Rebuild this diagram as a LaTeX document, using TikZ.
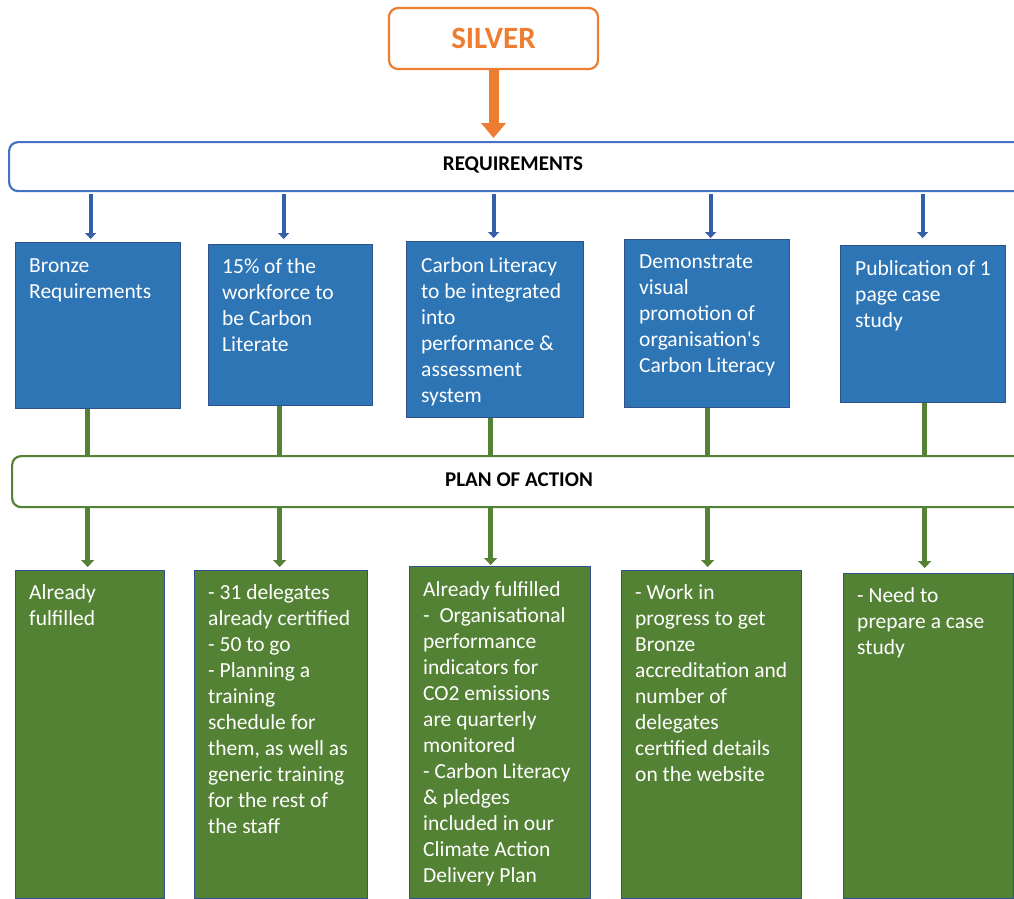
\documentclass[tikz,border=0pt]{standalone}
\usepackage{fontspec}
\setmainfont{Carlito}
\usetikzlibrary{arrows.meta}
\definecolor{orng}{HTML}{ED7D31}
\definecolor{barblue}{HTML}{4472C4}
\definecolor{boxblue}{HTML}{2E75B6}
\definecolor{edgeblue}{HTML}{2F528F}
\definecolor{arrblue}{HTML}{3560A8}
\definecolor{grn}{HTML}{548235}
\tikzset{
  silverbox/.style={draw=orng, line width=2.2pt, rounded corners=9pt, fill=white,
    minimum width=209pt, minimum height=61pt, text=orng,
    font=\fontsize{31}{34}\selectfont\bfseries},
  reqbar/.style={draw=barblue, line width=2.2pt, rounded corners=9pt, fill=white,
    minimum width=1040pt, minimum height=49pt, anchor=north west, inner sep=0pt},
  planbar/.style={draw=grn, line width=2.2pt, rounded corners=9pt, fill=white,
    minimum width=1040pt, minimum height=51pt, anchor=north west, inner sep=0pt},
  bartxt/.style={font=\fontsize{21}{24}\selectfont\bfseries, text=black, inner sep=0pt},
  bbox/.style={draw=edgeblue, line width=1.3pt, fill=boxblue, anchor=north west, inner sep=0pt},
  gbox/.style={draw=edgeblue, line width=1.3pt, fill=grn, anchor=north west, inner sep=0pt},
  wtxt/.style={text=white, font=\fontsize{21.5}{26}\selectfont, align=left, inner sep=0pt, anchor=north west},
  orarrow/.style={draw=orng, line width=10pt, -{Triangle[width=24pt,length=15pt]}},
  barrow/.style={draw=arrblue, line width=4pt, -{Triangle[width=11pt,length=6pt]}},
  gline/.style={draw=grn, line width=4.5pt},
  garrow/.style={draw=grn, line width=4.5pt, -{Triangle[width=13pt,length=7pt]}},
}
\begin{document}
\begin{tikzpicture}[x=1pt,y=-1pt]
\useasboundingbox (0,0) rectangle (1014,898);
\clip (0,0) rectangle (1014,898);

% top
\node[silverbox] (silver) at (493.5,38.5) {SILVER};
\node[reqbar] (req) at (8,141) {};
\node[bartxt] (reqt) at (513,165) {REQUIREMENTS};
\draw[orarrow, shorten >=3pt] (silver.south) -- (silver.south |- req.north);

% blue boxes
\node[bbox, minimum width=165pt, minimum height=166pt] (b1) at (15,242) {};
\node[bbox, minimum width=164pt, minimum height=161pt] (b2) at (208,244) {};
\node[bbox, minimum width=177pt, minimum height=176pt] (b3) at (406,241) {};
\node[bbox, minimum width=165pt, minimum height=168pt] (b4) at (624,239) {};
\node[bbox, minimum width=165pt, minimum height=157pt] (b5) at (840,245) {};

\node[wtxt] (b1t) at (29,258) {Bronze\\Requirements};
\node[wtxt] (b2t) at (222,258) {15\% of the\\workforce to\\be Carbon\\Literate};
\node[wtxt] (b3t) at (421,257) {Carbon Literacy\\to be integrated\\into\\performance \&\\assessment\\system};
\node[wtxt] (b4t) at (639,254) {Demonstrate\\visual\\promotion of\\organisation\textquotesingle s\\Carbon Literacy};
\node[wtxt] (b5t) at (855,260) {Publication of 1\\page case\\study};

% blue arrows
\draw[barrow] ([xshift=-7.5pt]b1.north |- req.south) ++(0,2) -- ([xshift=-7.5pt,yshift=3pt]b1.north);
\draw[barrow] ([xshift=-7pt]b2.north |- req.south) ++(0,2) -- ([xshift=-7pt,yshift=5pt]b2.north);
\draw[barrow] ([xshift=-1.5pt]b3.north |- req.south) ++(0,2) -- ([xshift=-1.5pt,yshift=3pt]b3.north);
\draw[barrow] ([xshift=3.5pt]b4.north |- req.south) ++(0,2) -- ([xshift=3.5pt,yshift=1pt]b4.north);
\draw[barrow] ([xshift=-0.5pt]b5.north |- req.south) ++(0,2) -- ([xshift=-0.5pt,yshift=7pt]b5.north);

% plan bar
\node[planbar] (plan) at (11,455) {};
\node[bartxt] (plant) at (519,480) {PLAN OF ACTION};

% green connectors
\draw[gline] ([xshift=-10.5pt]b1.south) -- ([xshift=-10.5pt]b1.south |- plan.north);
\draw[gline] ([xshift=-11pt]b2.south) -- ([xshift=-11pt]b2.south |- plan.north);
\draw[gline] ([xshift=-4.5pt]b3.south) -- ([xshift=-4.5pt]b3.south |- plan.north);
\draw[gline] ([xshift=0.5pt]b4.south) -- ([xshift=0.5pt]b4.south |- plan.north);
\draw[gline] ([xshift=1.5pt]b5.south) -- ([xshift=1.5pt]b5.south |- plan.north);

% green boxes
\node[gbox, minimum width=149pt, minimum height=328pt] (g1) at (15,570) {};
\node[gbox, minimum width=173pt, minimum height=328pt] (g2) at (194,570) {};
\node[gbox, minimum width=181pt, minimum height=332pt] (g3) at (409,566) {};
\node[gbox, minimum width=180pt, minimum height=328pt] (g4) at (621,570) {};
\node[gbox, minimum width=170pt, minimum height=325pt] (g5) at (843,573) {};

% green arrows
\draw[garrow] ([xshift=-2.5pt]g1.north |- plan.south) -- ([xshift=-2.5pt,yshift=3pt]g1.north);
\draw[garrow] ([xshift=-1.5pt]g2.north |- plan.south) -- ([xshift=-1.5pt,yshift=3pt]g2.north);
\draw[garrow] ([xshift=-9.5pt]g3.north |- plan.south) -- ([xshift=-9.5pt,yshift=1pt]g3.north);
\draw[garrow] ([xshift=-4pt]g4.north |- plan.south) -- ([xshift=-4pt,yshift=3pt]g4.north);
\draw[garrow] ([xshift=-4pt]g5.north |- plan.south) -- ([xshift=-4pt,yshift=5pt]g5.north);

\node[wtxt] (g1t) at (29,584) {Already\\fulfilled};
\node[wtxt] (g2t) at (208,584) {- 31 delegates\\already certified\\- 50 to go\\- Planning a\\training\\schedule for\\them, as well as\\generic training\\for the rest of\\the staff};
\node[wtxt] (g3t) at (423,581) {Already fulfilled\\-~ Organisational\\performance\\indicators for\\CO2 emissions\\are quarterly\\monitored\\- Carbon Literacy\\\& pledges\\included in our\\Climate Action\\Delivery Plan};
\node[wtxt] (g4t) at (635,584) {- Work in\\progress to get\\Bronze\\accreditation and\\number of\\delegates\\certified details\\on the website};
\node[wtxt] (g5t) at (857,587) {- Need to\\prepare a case\\study};
\end{tikzpicture}
\end{document}
